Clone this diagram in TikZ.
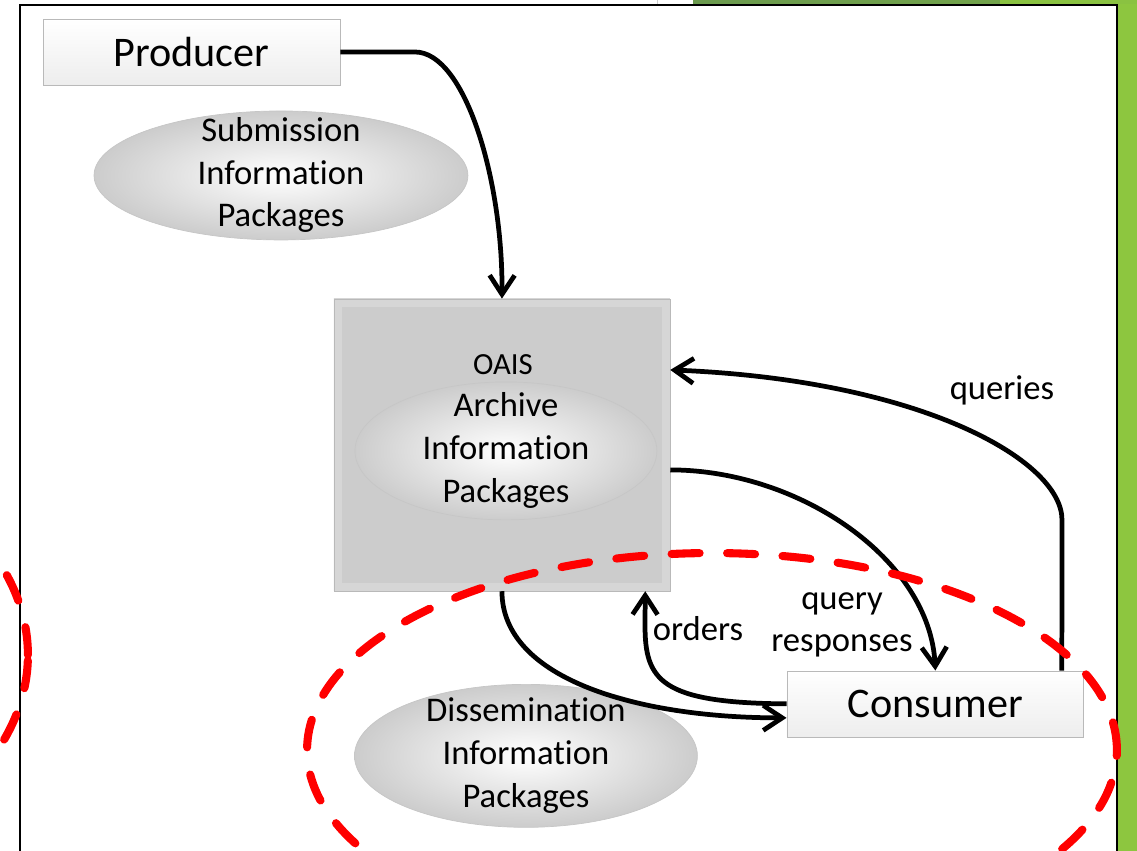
\documentclass[tikz,border=0pt]{standalone}
\usepackage{fontspec}
\setmainfont[Ligatures={NoCommon}]{Carlito}
\usepackage{tikz}
\usetikzlibrary{shapes.geometric, arrows.meta, positioning}

\definecolor{slidegreen}{HTML}{8DC63F}
\definecolor{olivegreen}{HTML}{6B9A4E}
\definecolor{ringred}{HTML}{FF0000}

\begin{document}
\begin{tikzpicture}[x=0.02cm, y=0.02cm,
    >={Straight Barb[length=3.8mm, width=5mm]},
    actor/.style={draw=gray!55, rectangle, top color=white, bottom color=gray!14, minimum width=5.94cm, minimum height=1.32cm, font=\fontsize{24}{29}\selectfont},
    package/.style={draw=gray!45, ellipse, inner color=white, outer color=gray!40},
    pkgtext/.style={inner sep=0pt, font=\fontsize{19.7}{24.4}\selectfont},
    flow/.style={->, line width=2.7pt},
    scopering/.style={draw=ringred, line width=4.6pt, line cap=round, dash pattern=on 0.56cm off 0.55cm}]

    \useasboundingbox (0,0) rectangle (1137,851);
    \clip (0,0) rectangle (1137,851);

    % slide frame
    \fill [slidegreen] (1118,0) rectangle (1137,851);
    \shade [left color=olivegreen, right color=olivegreen!80!slidegreen] (693,847) rectangle (1000,851);
    \fill [slidegreen!90!olivegreen] (1000,847) rectangle (1137,851);
    \draw [gray!40] (657,851) -- (657,847);
    \draw [line width=1.2pt] (20,-10) -- (20,846) -- (1117,846) -- (1117,-10);

    \node (producer) at (191.5, 799) [actor] {Producer};

    \node (sip) [package, below of=producer, xshift=1.79cm, yshift=-1.47cm, minimum width=7.48cm, minimum height=2.58cm] {};
    \node (siptext) at (sip) [pkgtext] {\begin{tabular}{c} Submission \\ Information \\ Packages \end{tabular}};

    \node (oais) [below of=sip, xshift=4.42cm, yshift=-4.39cm, draw=gray!55, rectangle, fill=gray!40, minimum width=6.72cm, minimum height=5.84cm,
        path picture={\draw [gray!32, line width=9pt] (path picture bounding box.south west) rectangle (path picture bounding box.north east);}] {};

    \node (aip) at (oais) [package, xshift=0.8mm, yshift=-1.2mm, minimum width=6.04cm, minimum height=2.76cm] {};
    \node (aiptext) at (aip) [pkgtext] {\begin{tabular}{c} Archive \\ Information \\ Packages \end{tabular}};
    \node (oaislabel) [above of=aip, xshift=-0.6mm, yshift=0.72cm, inner sep=0pt, font=\fontsize{17.5}{21}\selectfont] {OAIS};

    \node (consumer) [actor, right of=oais, xshift=7.67cm, yshift=-5.18cm] {Consumer};

    \node (dip) [package, below of=oais, xshift=0.48cm, yshift=-5.22cm, minimum width=6.86cm, minimum height=2.86cm] {};
    \node (diptext) at (dip) [pkgtext] {\begin{tabular}{c} Dissemination \\ Information \\ Packages \end{tabular}};

    \draw [flow] (producer.east) -- (415,799) .. controls (465,799) and (503,671) .. (oais.north);

    \draw [flow] ([xshift=2.53cm]consumer.north) -- (1062,331) .. controls (1062,391) and (920,471) .. ([yshift=1.5cm]oais.east);
    \node (querieslbl) at (1002,461) [pkgtext] {queries};

    \draw [flow] ([yshift=-0.5cm]oais.east) .. controls (800,381) and (930,291) .. (consumer.north);
    \node (responseslbl) at (842,229) [pkgtext] {\begin{tabular}{c} query \\ responses \end{tabular}};

    \draw [flow] (consumer.west) .. controls (660,148) and (645,171) .. (645,226) -- ([xshift=-0.5cm]oais.south east);
    \node (orderslbl) at (698,222) [pkgtext] {orders};

    \draw [flow] (oais.south) .. controls (502,171) and (640,133) .. ([yshift=-0.28cm]consumer.west);

    % dashed rings
    \draw [scopering] (712,101) ellipse [x radius=8.1cm, y radius=3.94cm];
    \draw [scopering] (-377,196) ellipse [x radius=8.1cm, y radius=5cm];
\end{tikzpicture}
\end{document}
